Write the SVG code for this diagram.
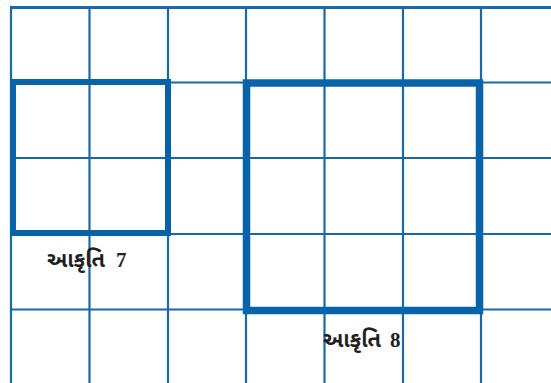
<svg xmlns="http://www.w3.org/2000/svg" width="551" height="383" viewBox="0 0 551 383">
<style>
.grid{stroke:#1769a8;stroke-width:2.2;fill:none}
.thick{stroke:#0864a8;fill:none}
.lbl{font-family:"Noto Sans Gujarati","Noto Serif Gujarati","Lohit Gujarati","Noto Sans","DejaVu Sans",sans-serif;font-weight:bold;fill:#231f20;font-size:22px}
.num{font-family:"Liberation Serif","DejaVu Serif",serif;font-weight:bold;fill:#231f20;font-size:21px}
</style>
<rect width="551" height="383" fill="#ffffff"/>
<g id="grid">
<line class="grid" x1="10" y1="7.5" x2="551" y2="7.5" style="stroke-width:3"/>
<line class="grid" x1="10" y1="82.5" x2="551" y2="82.5"/>
<line class="grid" x1="10" y1="158" x2="551" y2="158"/>
<line class="grid" x1="10" y1="234" x2="551" y2="234"/>
<line class="grid" x1="10" y1="309.5" x2="551" y2="309.5"/>
<line class="grid" x1="11" y1="6" x2="11" y2="383"/>
<line class="grid" x1="89.5" y1="6" x2="89.5" y2="383"/>
<line class="grid" x1="168" y1="6" x2="168" y2="383"/>
<line class="grid" x1="246" y1="6" x2="246" y2="383"/>
<line class="grid" x1="324.5" y1="6" x2="324.5" y2="383"/>
<line class="grid" x1="403" y1="6" x2="403" y2="383"/>
<line class="grid" x1="481" y1="6" x2="481" y2="383"/>
</g>
<g id="fig7">
<rect class="thick" x="13" y="82" width="155" height="151" stroke-width="6"/>
<text x="47" y="267"><tspan class="lbl" textLength="58" lengthAdjust="spacingAndGlyphs">આકૃતિ</tspan><tspan class="num" x="116">7</tspan></text>
</g>
<g id="fig8">
<rect class="thick" x="246.5" y="83" width="233" height="227.5" stroke-width="7.5"/>
<text x="323" y="347"><tspan class="lbl" textLength="58" lengthAdjust="spacingAndGlyphs">આકૃતિ</tspan><tspan class="num" x="390">8</tspan></text>
</g>
</svg>
